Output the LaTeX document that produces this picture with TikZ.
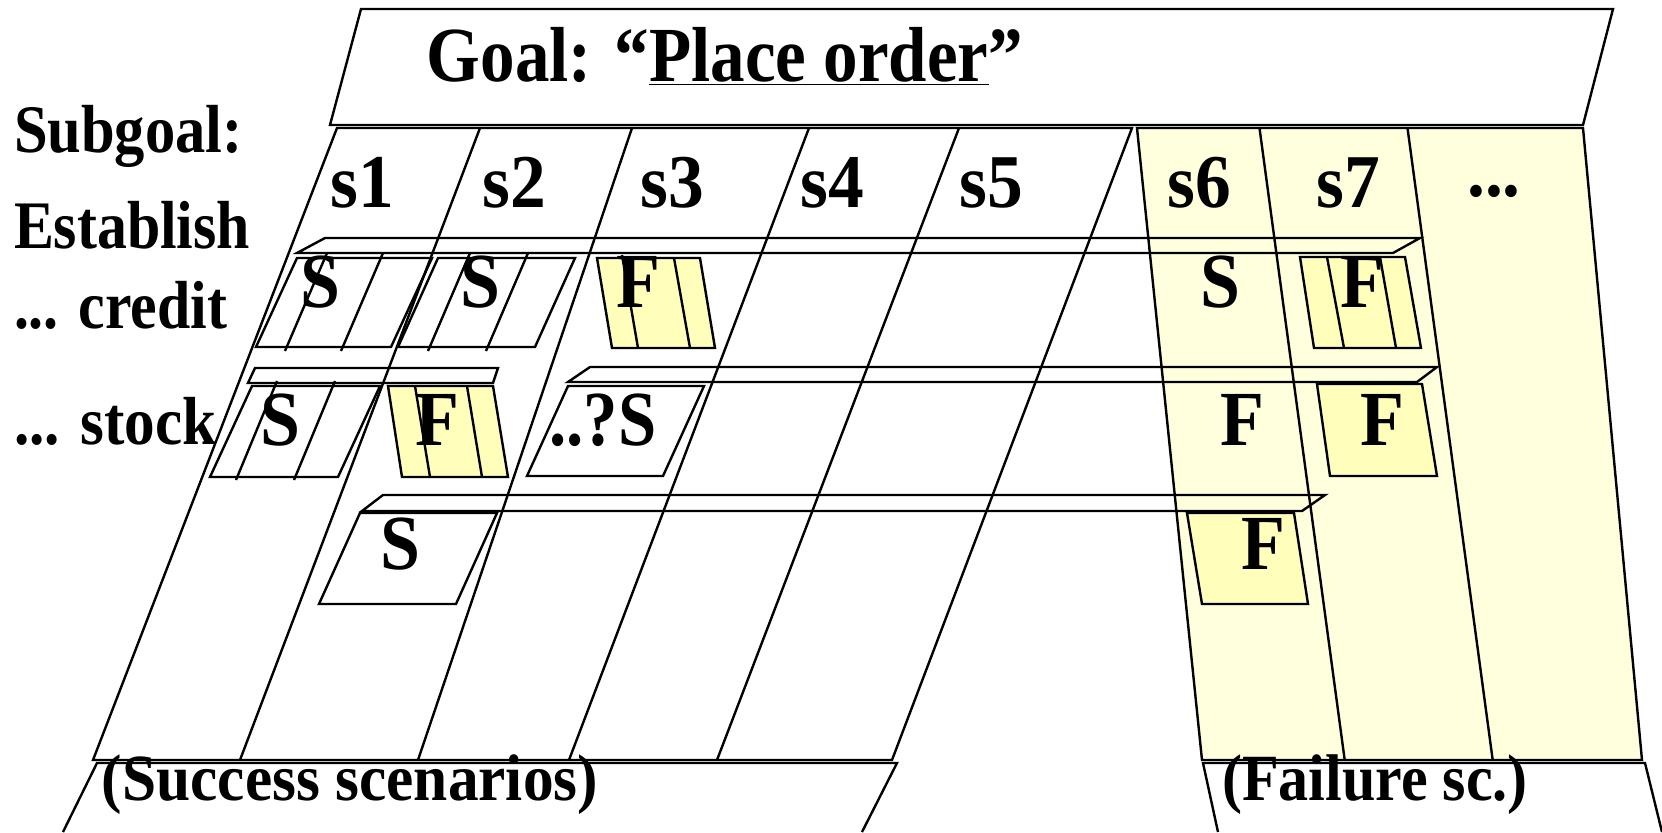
\documentclass[tikz,border=0pt]{standalone}
\usepackage{fontspec}
\setmainfont{Liberation Serif}
\usepackage{graphicx}
\definecolor{failbg}{RGB}{255,255,221}
\definecolor{failbox}{RGB}{255,255,187}
\newcommand{\lbl}[3]{\scalebox{#1}[1]{\fontsize{#2}{#2}\selectfont\bfseries #3}}
\begin{document}
\begin{tikzpicture}[x=0.5pt,y=-0.5pt,line width=1.2pt,line join=miter,
  txt/.style={inner sep=0pt,outer sep=0pt,anchor=base},
  ltxt/.style={inner sep=0pt,outer sep=0pt,anchor=base west},
  band/.style={draw=black},
  wbox/.style={draw=black},
  ybox/.style={draw=black,fill=failbox}]
\useasboundingbox (0,0) rectangle (1662,832);
\clip (0,0) rectangle (1662,832);
% failure area
\fill[failbg] (1137,128) -- (1583,128) -- (1642,760) -- (1202,760) -- cycle;
\draw (1137,128) -- (1583,128) -- (1642,760) -- (1202,760) -- cycle;
\draw (1259.5,128) -- (1344.7,760);
\draw (1407.5,128) -- (1492.7,760);
% success area
\draw (337,128) -- (1132,128) -- (892,760) -- (93,760) -- cycle;
\draw (480,128) -- (240,760);
\draw (632,128) -- (418,760);
\draw (809,128) -- (569,760);
\draw (959,128) -- (717,760);
% goal box
\draw (330,125) -- (361,9) -- (1613,9) -- (1583,125) -- cycle;
% bottom boxes
\draw (63,832) -- (97,763) -- (897,763) -- (862,832);
\draw (1218,832) -- (1203,763) -- (1645,763) -- (1662,832);
% bands
\draw[band] (297,253) -- (1393,253) -- (1420,238) -- (325,238) -- cycle;
\draw[band] (248,383) -- (493,383) -- (498,368) -- (255,368) -- cycle;
\draw[band] (568,382) -- (1417,382) -- (1437,367) -- (590,367) -- cycle;
\draw[band] (362,511) -- (1302,511) -- (1325,495) -- (383,495) -- cycle;
% credit row boxes
\draw[wbox] (297,258) -- (432,258) -- (391,347) -- (256,347) -- cycle;
\draw (327,253) -- (285,351);
\draw (383,253) -- (341,351);
\draw[wbox] (438,258) -- (575,258) -- (535,347) -- (398,347) -- cycle;
\draw (470,253) -- (428,351);
\draw (528,253) -- (486,351);
\draw[ybox] (597,258) -- (700,258) -- (715,348) -- (612,348) -- cycle;
\draw (622,255) -- (638,348);
\draw (674,258) -- (690,348);
\draw[ybox] (1300,257) -- (1405,257) -- (1421,348) -- (1314,348) -- cycle;
\draw (1327,257) -- (1344,348);
\draw (1380,257) -- (1396,348);
% stock row boxes
\draw[wbox] (252,386) -- (380,386) -- (338,477) -- (210,477) -- cycle;
\draw (277,381) -- (236,480);
\draw (335,381) -- (294,480);
\draw[ybox] (388,386) -- (493,386) -- (508,477) -- (402,477) -- cycle;
\draw (415,386) -- (430,477);
\draw (467,386) -- (482,477);
\draw[wbox] (568,386) -- (704,386) -- (663,476) -- (527,476) -- cycle;
\draw[ybox] (1317,384) -- (1422,384) -- (1437,476) -- (1330,476) -- cycle;
% third row boxes
\draw[wbox] (360,513) -- (497,513) -- (456,604) -- (319,604) -- cycle;
\draw[ybox] (1187,513) -- (1294,513) -- (1308,604) -- (1202,604) -- cycle;
% texts
\node[txt] (goal) at (725,81) {\lbl{0.885}{39}{Goal: “\underline{Place order}”}};
\node[ltxt] (subgoal) at (14,152) {\lbl{0.89}{34}{Subgoal:}};
\node[ltxt] (establish) at (14,248) {\lbl{0.88}{34}{Establish}};
\node[ltxt] (credit) at (14,328) {\lbl{0.88}{34}{... credit}};
\node[ltxt] (stock) at (14,444) {\lbl{0.9}{34}{... stock}};
\node[txt] (s1) at (362,207) {\lbl{0.94}{38}{s1}};
\node[txt] (s2) at (514,207) {\lbl{0.94}{38}{s2}};
\node[txt] (s3) at (672,207) {\lbl{0.94}{38}{s3}};
\node[txt] (s4) at (832,207) {\lbl{0.94}{38}{s4}};
\node[txt] (s5) at (991,207) {\lbl{0.94}{38}{s5}};
\node[txt] (s6) at (1199,207) {\lbl{0.94}{38}{s6}};
\node[txt] (s7) at (1348,207) {\lbl{0.94}{38}{s7}};
\node[txt] (more) at (1494,196) {\lbl{0.94}{38}{...}};
\node[txt] (c1) at (320,307) {\lbl{0.92}{39}{S}};
\node[txt] (c2) at (480,307) {\lbl{0.92}{39}{S}};
\node[txt] (c3) at (638,307) {\lbl{0.92}{39}{F}};
\node[txt] (c6) at (1220,307) {\lbl{0.92}{39}{S}};
\node[txt] (c7) at (1362,307) {\lbl{0.92}{39}{F}};
\node[txt] (k1) at (280,445) {\lbl{0.92}{39}{S}};
\node[txt] (k2) at (437,445) {\lbl{0.92}{39}{F}};
\node[txt] (k3) at (603,445) {\lbl{0.88}{39}{..?S}};
\node[txt] (k6) at (1242,445) {\lbl{0.92}{39}{F}};
\node[txt] (k7) at (1382,445) {\lbl{0.92}{39}{F}};
\node[txt] (t1) at (400,569) {\lbl{0.92}{39}{S}};
\node[txt] (t6) at (1263,569) {\lbl{0.92}{39}{F}};
\node[txt] (succ) at (350,800) {\lbl{0.93}{33}{(Success scenarios)}};
\node[txt] (fail) at (1375,800) {\lbl{0.91}{33}{(Failure sc.)}};
\end{tikzpicture}
\end{document}
